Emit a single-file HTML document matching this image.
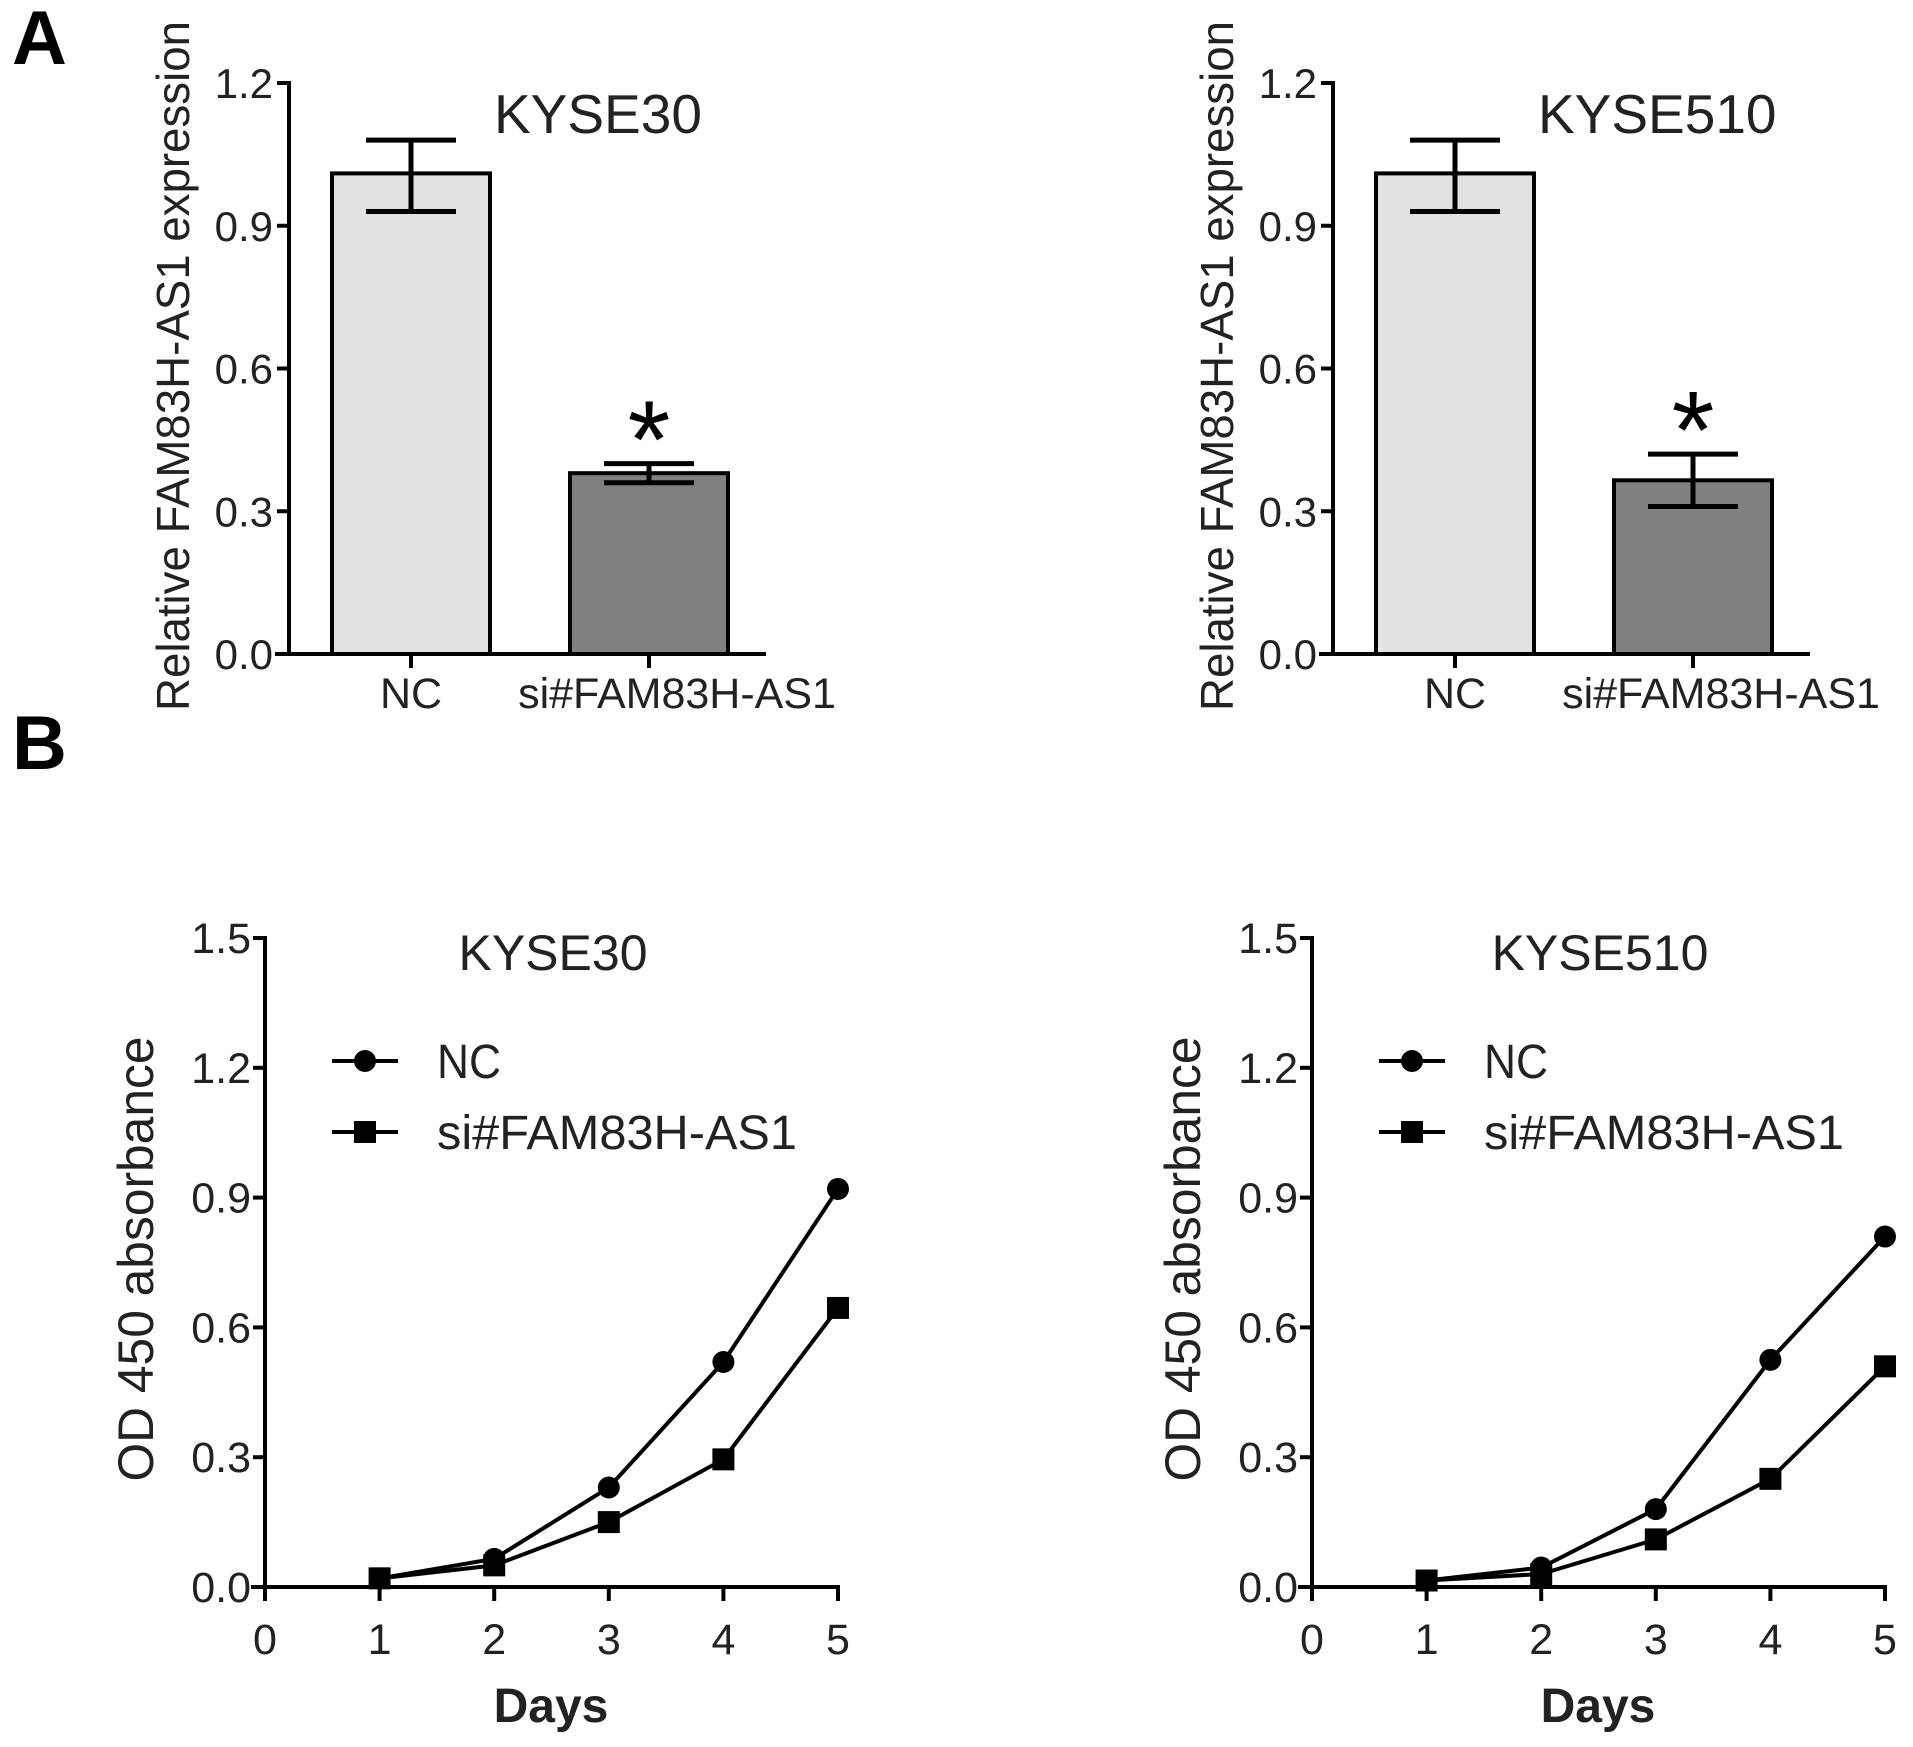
<!DOCTYPE html>
<html><head><meta charset="utf-8"><style>
html,body{margin:0;padding:0;background:#fff;}
svg{display:block;font-family:"Liberation Sans",Arial,sans-serif;}
</style></head><body>
<svg id="fig" width="1913" height="1747" viewBox="0 0 1913 1747">
<text x="12" y="64" font-size="76" font-weight="bold">A</text>
<text x="12" y="769" font-size="76" font-weight="bold">B</text>
</svg>
<script>
const barCategories = ["NC", "si#FAM83H-AS1"];
const barTicks = ["0.0", "0.3", "0.6", "0.9", "1.2"];
const kyse30BarMeans = [1.01, 0.38];
const kyse30BarErrLow = [0.93, 0.36];
const kyse30BarErrHigh = [1.08, 0.40];
const kyse510BarMeans = [1.01, 0.365];
const kyse510BarErrLow = [0.93, 0.31];
const kyse510BarErrHigh = [1.08, 0.42];

const days = [1, 2, 3, 4, 5];
const dayTicks = ["0", "1", "2", "3", "4", "5"];
const lineTicks = ["0.0", "0.3", "0.6", "0.9", "1.2", "1.5"];
const kyse30NC = [0.02, 0.065, 0.23, 0.52, 0.92];
const kyse30Si = [0.02, 0.05, 0.15, 0.295, 0.645];
const kyse510NC = [0.015, 0.045, 0.18, 0.525, 0.81];
const kyse510Si = [0.015, 0.03, 0.11, 0.25, 0.51];

const NS = "http://www.w3.org/2000/svg";
const svg = document.getElementById("fig");
function mk(tag, attrs, parent, text) {
  const e = document.createElementNS(NS, tag);
  for (const k in attrs) e.setAttribute(k, attrs[k]);
  if (text !== undefined) e.textContent = text;
  (parent || svg).appendChild(e);
  return e;
}

function barChart(ox, title, means, lo, hi, prefix) {
  const g = mk("g", {});
  
  
  const axX = ox, y0 = 654, yTop = 83, ymax = 1.2;
  const y = v => y0 - (v / ymax) * (y0 - yTop);
  const barX = [ox + 43, ox + 281], barW = 158;
  const fills = ["#e2e2e2", "#808080"];
  const labX = [ox + 122, ox + 388];
  means.forEach((m, i) => {
    const r = mk("rect", {x: barX[i], y: y(m), width: barW, height: y0 - y(m), fill: fills[i], stroke: "#000", "stroke-width": 4}, g);
    
    
    const cx = barX[i] + barW / 2;
    const eb = mk("path", {d: `M${cx} ${y(lo[i])}V${y(hi[i])}M${cx-45} ${y(hi[i])}H${cx+45}M${cx-45} ${y(lo[i])}H${cx+45}`, stroke: "#000", "stroke-width": 5, fill: "none"}, g);
    
    
    mk("line", {x1: cx, x2: cx, y1: y0, y2: y0 + 14, stroke: "#000", "stroke-width": 4}, g);
    const lab = mk("text", {x: labX[i], y: 708, "font-size": 43, "text-anchor": "middle", fill: "#222"}, g, barCategories[i]);
    
    
  });
  const st = mk("text", {x: barX[1] + barW / 2, y: y(hi[1]) + 14, "font-size": 110, "text-anchor": "middle"}, g, "*");
  
  
  mk("line", {x1: axX, x2: axX, y1: yTop - 2, y2: y0 + 2, stroke: "#000", "stroke-width": 4}, g);
  mk("line", {x1: axX - 14, x2: ox + 477, y1: y0, y2: y0, stroke: "#000", "stroke-width": 4}, g);
  barTicks.forEach(t => {
    const v = parseFloat(t);
    mk("line", {x1: axX - 12, x2: axX, y1: y(v), y2: y(v), stroke: "#000", "stroke-width": 4}, g);
    const tl = mk("text", {x: axX - 16, y: y(v) + 15, "font-size": 42, "text-anchor": "end", fill: "#222"}, g, t);
    
    
  });
  const tt = mk("text", {x: ox + 205, y: 133, "font-size": 55, fill: "#222"}, g, title);
  
  
  const yl = mk("text", {x: 0, y: 0, "font-size": 46, "text-anchor": "middle", fill: "#222", textLength: 690, lengthAdjust: "spacingAndGlyphs", transform: `translate(${ox-100},366) rotate(-90)`}, g, "Relative FAM83H-AS1 expression");
  
  
}

function lineChart(ox, title, nc, si, prefix) {
  const g = mk("g", {});
  
  
  const y0 = 1587, yTop = 938, ymax = 1.5, xEnd = ox + 573;
  const x = d => ox + (d / 5) * (xEnd - ox);
  const y = v => y0 - (v / ymax) * (y0 - yTop);
  mk("line", {x1: ox, x2: ox, y1: yTop - 2, y2: y0, stroke: "#000", "stroke-width": 4}, g);
  mk("line", {x1: ox - 14, x2: xEnd + 2, y1: y0, y2: y0, stroke: "#000", "stroke-width": 4}, g);
  lineTicks.forEach(t => {
    const v = parseFloat(t);
    mk("line", {x1: ox - 12, x2: ox, y1: y(v), y2: y(v), stroke: "#000", "stroke-width": 4}, g);
    const tl = mk("text", {x: ox - 14, y: y(v) + 15, "font-size": 43, "text-anchor": "end", fill: "#222"}, g, t);
    
    
  });
  dayTicks.forEach(t => {
    const d = parseFloat(t);
    mk("line", {x1: x(d), x2: x(d), y1: y0, y2: y0 + 14, stroke: "#000", "stroke-width": 4}, g);
    const tl = mk("text", {x: x(d), y: 1654, "font-size": 43, "text-anchor": "middle", fill: "#222"}, g, t);
    
    
  });
  const pts = arr => days.map((d, i) => `${x(d)},${y(arr[i])}`).join(" ");
  const l1 = mk("polyline", {points: pts(nc), fill: "none", stroke: "#000", "stroke-width": 4}, g);
  
  
  const l2 = mk("polyline", {points: pts(si), fill: "none", stroke: "#000", "stroke-width": 4}, g);
  
  
  days.forEach((d, i) => {
    const s = mk("rect", {x: x(d) - 11, y: y(si[i]) - 11, width: 22, height: 22, fill: "#000"}, g);
    
    
    const c = mk("circle", {cx: x(d), cy: y(nc[i]), r: 11, fill: "#000"}, g);
    
    
  });
  const tt = mk("text", {x: ox + 288, y: 970, "font-size": 50, "text-anchor": "middle", fill: "#222"}, g, title);
  
  
  const lx = ox + 67;
  mk("line", {x1: lx, x2: lx + 66, y1: 1061, y2: 1061, stroke: "#000", "stroke-width": 4}, g);
  mk("circle", {cx: lx + 33, cy: 1061, r: 11, fill: "#000"}, g);
  const le1 = mk("text", {x: lx + 105, y: 1078, "font-size": 48, fill: "#222", textLength: 64, lengthAdjust: "spacingAndGlyphs"}, g, "NC");
  
  
  mk("line", {x1: lx, x2: lx + 66, y1: 1132, y2: 1132, stroke: "#000", "stroke-width": 4}, g);
  mk("rect", {x: lx + 22, y: 1121, width: 22, height: 22, fill: "#000"}, g);
  const le2 = mk("text", {x: lx + 105, y: 1149, "font-size": 48, fill: "#222", textLength: 360, lengthAdjust: "spacingAndGlyphs"}, g, "si#FAM83H-AS1");
  
  
  const xl = mk("text", {x: ox + 286, y: 1722, "font-size": 48, "font-weight": "bold", "text-anchor": "middle", fill: "#222"}, g, "Days");
  
  
  const yl = mk("text", {x: 0, y: 0, "font-size": 50, "text-anchor": "middle", fill: "#222", textLength: 445, lengthAdjust: "spacingAndGlyphs", transform: `translate(${ox-112},1259) rotate(-90)`}, g, "OD 450 absorbance");
  
  
}

barChart(289, "KYSE30", kyse30BarMeans, kyse30BarErrLow, kyse30BarErrHigh, "kyse30");
barChart(1333, "KYSE510", kyse510BarMeans, kyse510BarErrLow, kyse510BarErrHigh, "kyse510");
lineChart(265, "KYSE30", kyse30NC, kyse30Si, "kyse30");
lineChart(1312, "KYSE510", kyse510NC, kyse510Si, "kyse510");
</script>
</body></html>
